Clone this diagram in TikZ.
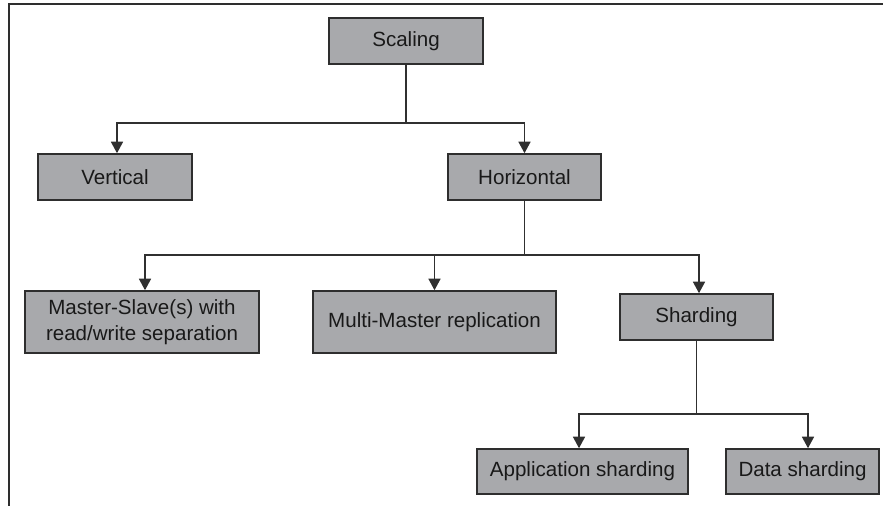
\documentclass[tikz,border=0pt]{standalone}
\usepackage{fontspec}
\setmainfont{Liberation Sans}
\usepackage{tikz}
\usetikzlibrary{arrows.meta}
\usepackage{xcolor}

\definecolor{boxfill}{HTML}{A8A9AC}
\definecolor{boxline}{HTML}{2E2E2E}
\definecolor{wire}{HTML}{303030}

\tikzset{
    level/.style={draw=boxline, line width=0.9pt, fill=boxfill, inner sep=0pt,
        align=center, text=black!90, font=\fontsize{11.7}{14.6}\selectfont},
    wide/.style={level, minimum width=#1, minimum height=0.92cm},
    tall/.style={level, minimum width=#1, minimum height=1.24cm},
    arr/.style={draw=wire, line width=0.85pt, -{Triangle[length=2.3mm, width=2.4mm]}},
    wireline/.style={draw=wire, line width=0.85pt}
}

\begin{document}
\begin{tikzpicture}
    \useasboundingbox (0,0) rectangle (17.66,10.12);
    % frame
    \draw[boxline, line width=1.1pt] (17.66,10.04) -- (0.18,10.04) -- (0.18,0);

    % the tree
    \node[wide=3.08cm] (scaling) at (8.12,9.30) {Scaling};
    \node[wide=3.08cm] (vertical) at (2.30,6.58) {Vertical};
    \node[wide=3.06cm] (horizontal) at (10.49,6.58) {Horizontal};
    \node[tall=4.68cm] (masterslave) at (2.84,3.68) {Master-Slave(s) with\\read/write separation};
    \node[tall=4.86cm] (multimaster) at (8.69,3.68) {Multi-Master replication};
    \node[wide=3.06cm] (sharding) at (13.93,3.78) {Sharding};
    \node[wide=4.22cm, minimum height=0.90cm] (appshard) at (11.65,0.69) {Application sharding};
    \node[wide=3.06cm, minimum height=0.90cm] (datashard) at (16.05,0.69) {Data sharding};

    % branch points
    \coordinate (split1) at (8.12,7.66);
    \coordinate (split2) at (10.49,5.02);
    \coordinate (split3) at (13.93,1.84);

    \draw[wireline] (scaling) -- (split1);
    \draw[arr] (split1) -| ([xshift=0.04cm]vertical.north);
    \draw[arr] (split1) -| (horizontal.north);

    \draw[wireline] (horizontal) -- (split2);
    \draw[arr] (split2) -| ([xshift=0.06cm]masterslave.north);
    \draw[arr] (split2) -| (multimaster.north);
    \draw[arr] (split2) -| ([xshift=0.05cm]sharding.north);

    \draw[wireline] (sharding) -- (split3);
    \draw[arr] (split3) -| ([xshift=-0.07cm]appshard.north);
    \draw[arr] (split3) -| ([xshift=0.11cm]datashard.north);
\end{tikzpicture}
\end{document}
